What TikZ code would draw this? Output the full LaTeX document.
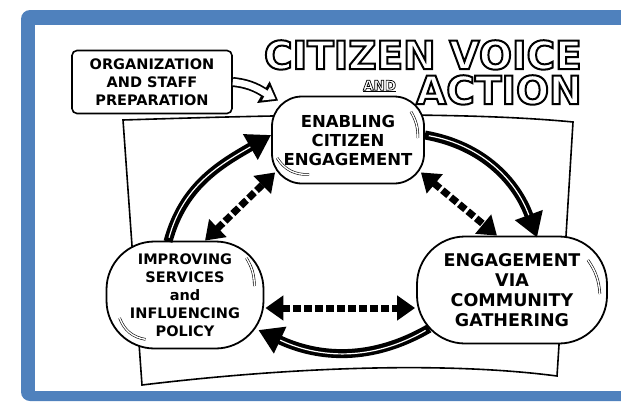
\documentclass[tikz,border=0pt]{standalone}
\usepackage{fontspec}
\setmainfont{DejaVu Sans}
\usetikzlibrary{arrows.meta,calc}
\definecolor{frameblue}{RGB}{79,129,189}
\newcommand{\outlinetext}[2]{\special{pdf:literal direct 2 Tr #1 w 0 0 0 RG 1 1 1 rg}#2\special{pdf:literal direct 0 Tr 0 0 0 rg}}

\begin{document}
\begin{tikzpicture}[x=1pt,y=1pt,
  blob/.style={draw, line width=1.8pt, fill=white, align=center},
  heading/.style={inner sep=0pt, align=right, font=\bfseries\fontsize{39}{35}\selectfont},
  solidarr/.style={line width=9pt, -{Triangle[length=24pt,width=28pt]}, postaction={draw=white, line width=1.2pt, -, shorten >=24pt, shorten <=4pt}},
  dasharr/.style={line width=7pt, dash pattern=on 8pt off 3pt, {Triangle[length=18pt,width=24pt]}-{Triangle[length=18pt,width=24pt]}},
  hollowarr/.style={line width=10pt, -{Triangle[length=17pt,width=24pt]}, postaction={draw=white, line width=6.5pt, -{Triangle[length=11pt,width=15pt]}, shorten >=3pt}},
  glint/.style={double=white, double distance=1.4pt, line width=0.6pt}]
\useasboundingbox (0,0) rectangle (621,-402);
\fill[frameblue, rounded corners=9pt] (21,-10) rectangle (660,-401);
\fill[white] (35,-25) rectangle (660,-391);
\draw[line width=1.6pt, fill=white] (123,-120) .. controls (250,-116) and (450,-110) .. (573,-122) -- (566,-236) -- (557,-376) .. controls (450,-362) and (300,-366) .. (142,-385) -- cycle;
\node[heading, anchor=north east] (title) at (582,-40) {\outlinetext{2}{CITIZEN VOICE}\\\raisebox{14pt}{\fontsize{13.5}{13.5}\selectfont\underline{\outlinetext{0.7}{AND}}}\hspace{20pt}\outlinetext{2}{ACTION}};
\node[blob, line width=1.6pt, rounded corners=5pt, minimum width=160pt, minimum height=63pt, font=\bfseries\fontsize{14.5}{18}\selectfont] (prep) at (152,-82) {ORGANIZATION\\AND STAFF\\PREPARATION};
\node[blob, rounded corners=30pt, minimum width=152pt, minimum height=87pt, font=\bfseries\fontsize{16.5}{19}\selectfont] (enable) at (348,-140) {ENABLING\\CITIZEN\\ENGAGEMENT};
\node[blob, rounded corners=48pt, minimum width=157pt, minimum height=107pt, font=\bfseries\fontsize{14.5}{18}\selectfont] (improve) at (185,-295) {IMPROVING\\SERVICES\\and\\INFLUENCING\\POLICY};
\node[blob, rounded corners=48pt, minimum width=190pt, minimum height=107pt, font=\bfseries\fontsize{17.5}{20}\selectfont] (gather) at (512,-290) {ENGAGEMENT\\VIA\\COMMUNITY\\GATHERING};
\draw[hollowarr] (prep.east) to[out=-5,in=150] ($(enable.north west)+(7,-5)$);
\draw[solidarr] ($(improve.north)+(-17,-1)$) to[out=75,in=210] ($(enable.west)+(0,5)$);
\draw[solidarr] ($(enable.east)+(0,5)$) to[out=-10,in=110] ($(gather.north)+(25,-2)$);
\draw[solidarr] ($(gather.south west)+(13,16)$) to[out=210,in=-25] ($(improve.east)+(-6,-35)$);
\draw[dasharr] ($(improve.north)+(20,0)$) -- ($(enable.south west)+(4,12)$);
\draw[dasharr] ($(enable.south east)+(-4,12)$) -- ($(gather.north)+(-15,0)$);
\draw[dasharr] ($(improve.east)+(1,-13)$) -- ($(gather.west)+(-1,-18)$);
\draw[glint] ($(enable.north east)+(-14,-16)$) to[bend left=15] ($(enable.east)+(-7,2)$);
\draw[glint] ($(enable.west)+(6,-18)$) to[bend right=30] ($(enable.south west)+(38,10)$);
\draw[glint] ($(improve.east)+(-18,37)$) to[bend left=15] ($(improve.east)+(-10,9)$);
\draw[glint] ($(improve.west)+(14,-23)$) to[bend right=30] ($(improve.south west)+(40,10)$);
\draw[glint] ($(gather.east)+(-20,30)$) to[bend left=15] ($(gather.east)+(-8,-4)$);
\end{tikzpicture}
\end{document}
